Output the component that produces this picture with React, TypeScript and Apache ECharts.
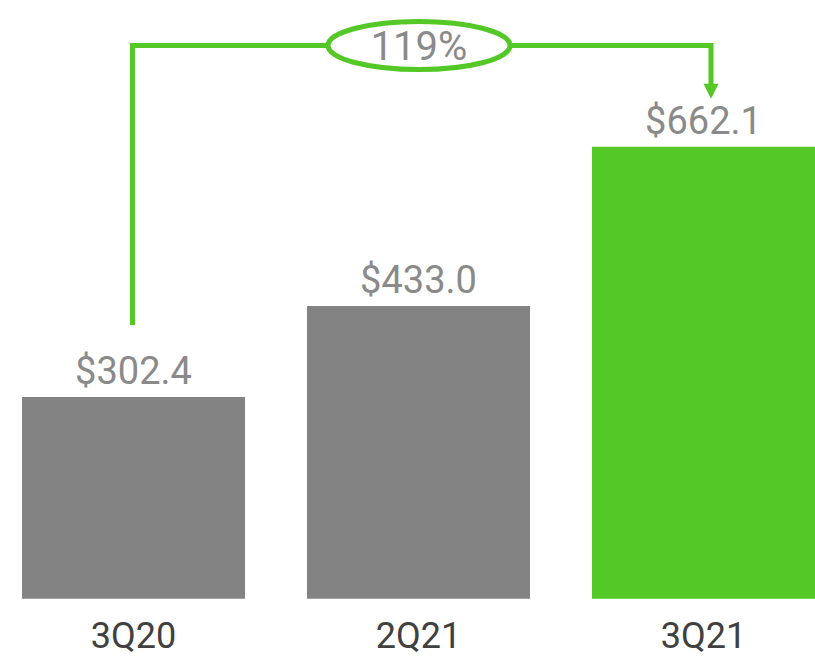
import React, { useEffect, useRef } from "react";
import * as echarts from "echarts";

const categories = ["3Q20", "2Q21", "3Q21"];
const values = [302.4, 433.0, 662.1];
const valueLabels = ["$302.4", "$433.0", "$662.1"];
const growthLabel = "119%";

const GREEN = "#53c826";
const GRAY = "#838383";

export default function App() {
  const ref = useRef<HTMLDivElement>(null);
  useEffect(() => {
    if (!ref.current) return;
    const chart = echarts.init(ref.current, null, { renderer: "svg" });
    const option: any = {
      animation: false,
      grid: { left: 0, right: 0, top: 120.3, bottom: 59.3 },
      xAxis: {
        type: "category",
        data: categories,
        axisLine: { show: false },
        axisTick: { show: false },
        axisLabel: {
          color: "#404040",
          fontSize: 36,
          fontFamily: "Roboto",
          margin: 19,
        },
      },
      yAxis: {
        type: "value",
        min: 12.5,
        max: 700,
        show: false,
        splitLine: { show: false },
      },
      series: [
        {
          type: "bar",
          barWidth: 223,
          data: values.map((v, i) => ({
            value: v,
            itemStyle: { color: i === values.length - 1 ? GREEN : GRAY },
          })),
          label: {
            show: true,
            position: "top",
            distance: 7,
            color: "#8a8a8a",
            fontSize: 38,
            fontFamily: "Roboto",
            formatter: (p: any) => valueLabels[p.dataIndex],
          },
        },
      ],
    };
    chart.setOption(option);

    const p0 = chart.convertToPixel({ gridIndex: 0 }, [0, values[0]]) as number[];
    const p1 = chart.convertToPixel({ gridIndex: 0 }, [1, values[1]]) as number[];
    const p2 = chart.convertToPixel({ gridIndex: 0 }, [2, values[2]]) as number[];
    const lineY = 45.5;
    const leftX = p0[0] - 1;
    const rightX = p2[0] + 7.5;
    const startY = p0[1] - 72;
    const tipY = p2[1] - 48;
    const cx = p1[0] + 0.5;
    const rx = 91;
    const ry = 24;
    const lineStyle = { stroke: GREEN, lineWidth: 5, fill: "none" };

    chart.setOption({
      graphic: [
        {
          type: "polyline",
          shape: {
            points: [
              [leftX, startY],
              [leftX, lineY],
              [cx - rx, lineY],
            ],
          },
          style: lineStyle,
        },
        {
          type: "polyline",
          shape: {
            points: [
              [cx + rx, lineY],
              [rightX, lineY],
              [rightX, tipY - 14],
            ],
          },
          style: lineStyle,
        },
        {
          type: "polygon",
          shape: {
            points: [
              [rightX - 7.5, tipY - 15],
              [rightX + 7.5, tipY - 15],
              [rightX, tipY],
            ],
          },
          style: { fill: GREEN },
        },
        {
          type: "ellipse",
          shape: { cx, cy: lineY, rx, ry },
          style: { stroke: GREEN, lineWidth: 5, fill: "#ffffff" },
        },
        {
          type: "text",
          x: cx,
          y: lineY + 1,
          style: {
            text: growthLabel,
            fill: "#8a8a8a",
            fontSize: 40,
            fontFamily: "Roboto",
            align: "center",
            verticalAlign: "middle",
          },
        },
      ],
    });

    return () => chart.dispose();
  }, []);
  return (
    <div
      style={{
        position: "absolute",
        left: 0,
        top: 0,
        width: 815,
        height: 658,
        overflow: "hidden",
      }}
    >
      <div
        ref={ref}
        style={{ position: "absolute", left: -9, top: 0, width: 855, height: 658 }}
      />
    </div>
  );
}
